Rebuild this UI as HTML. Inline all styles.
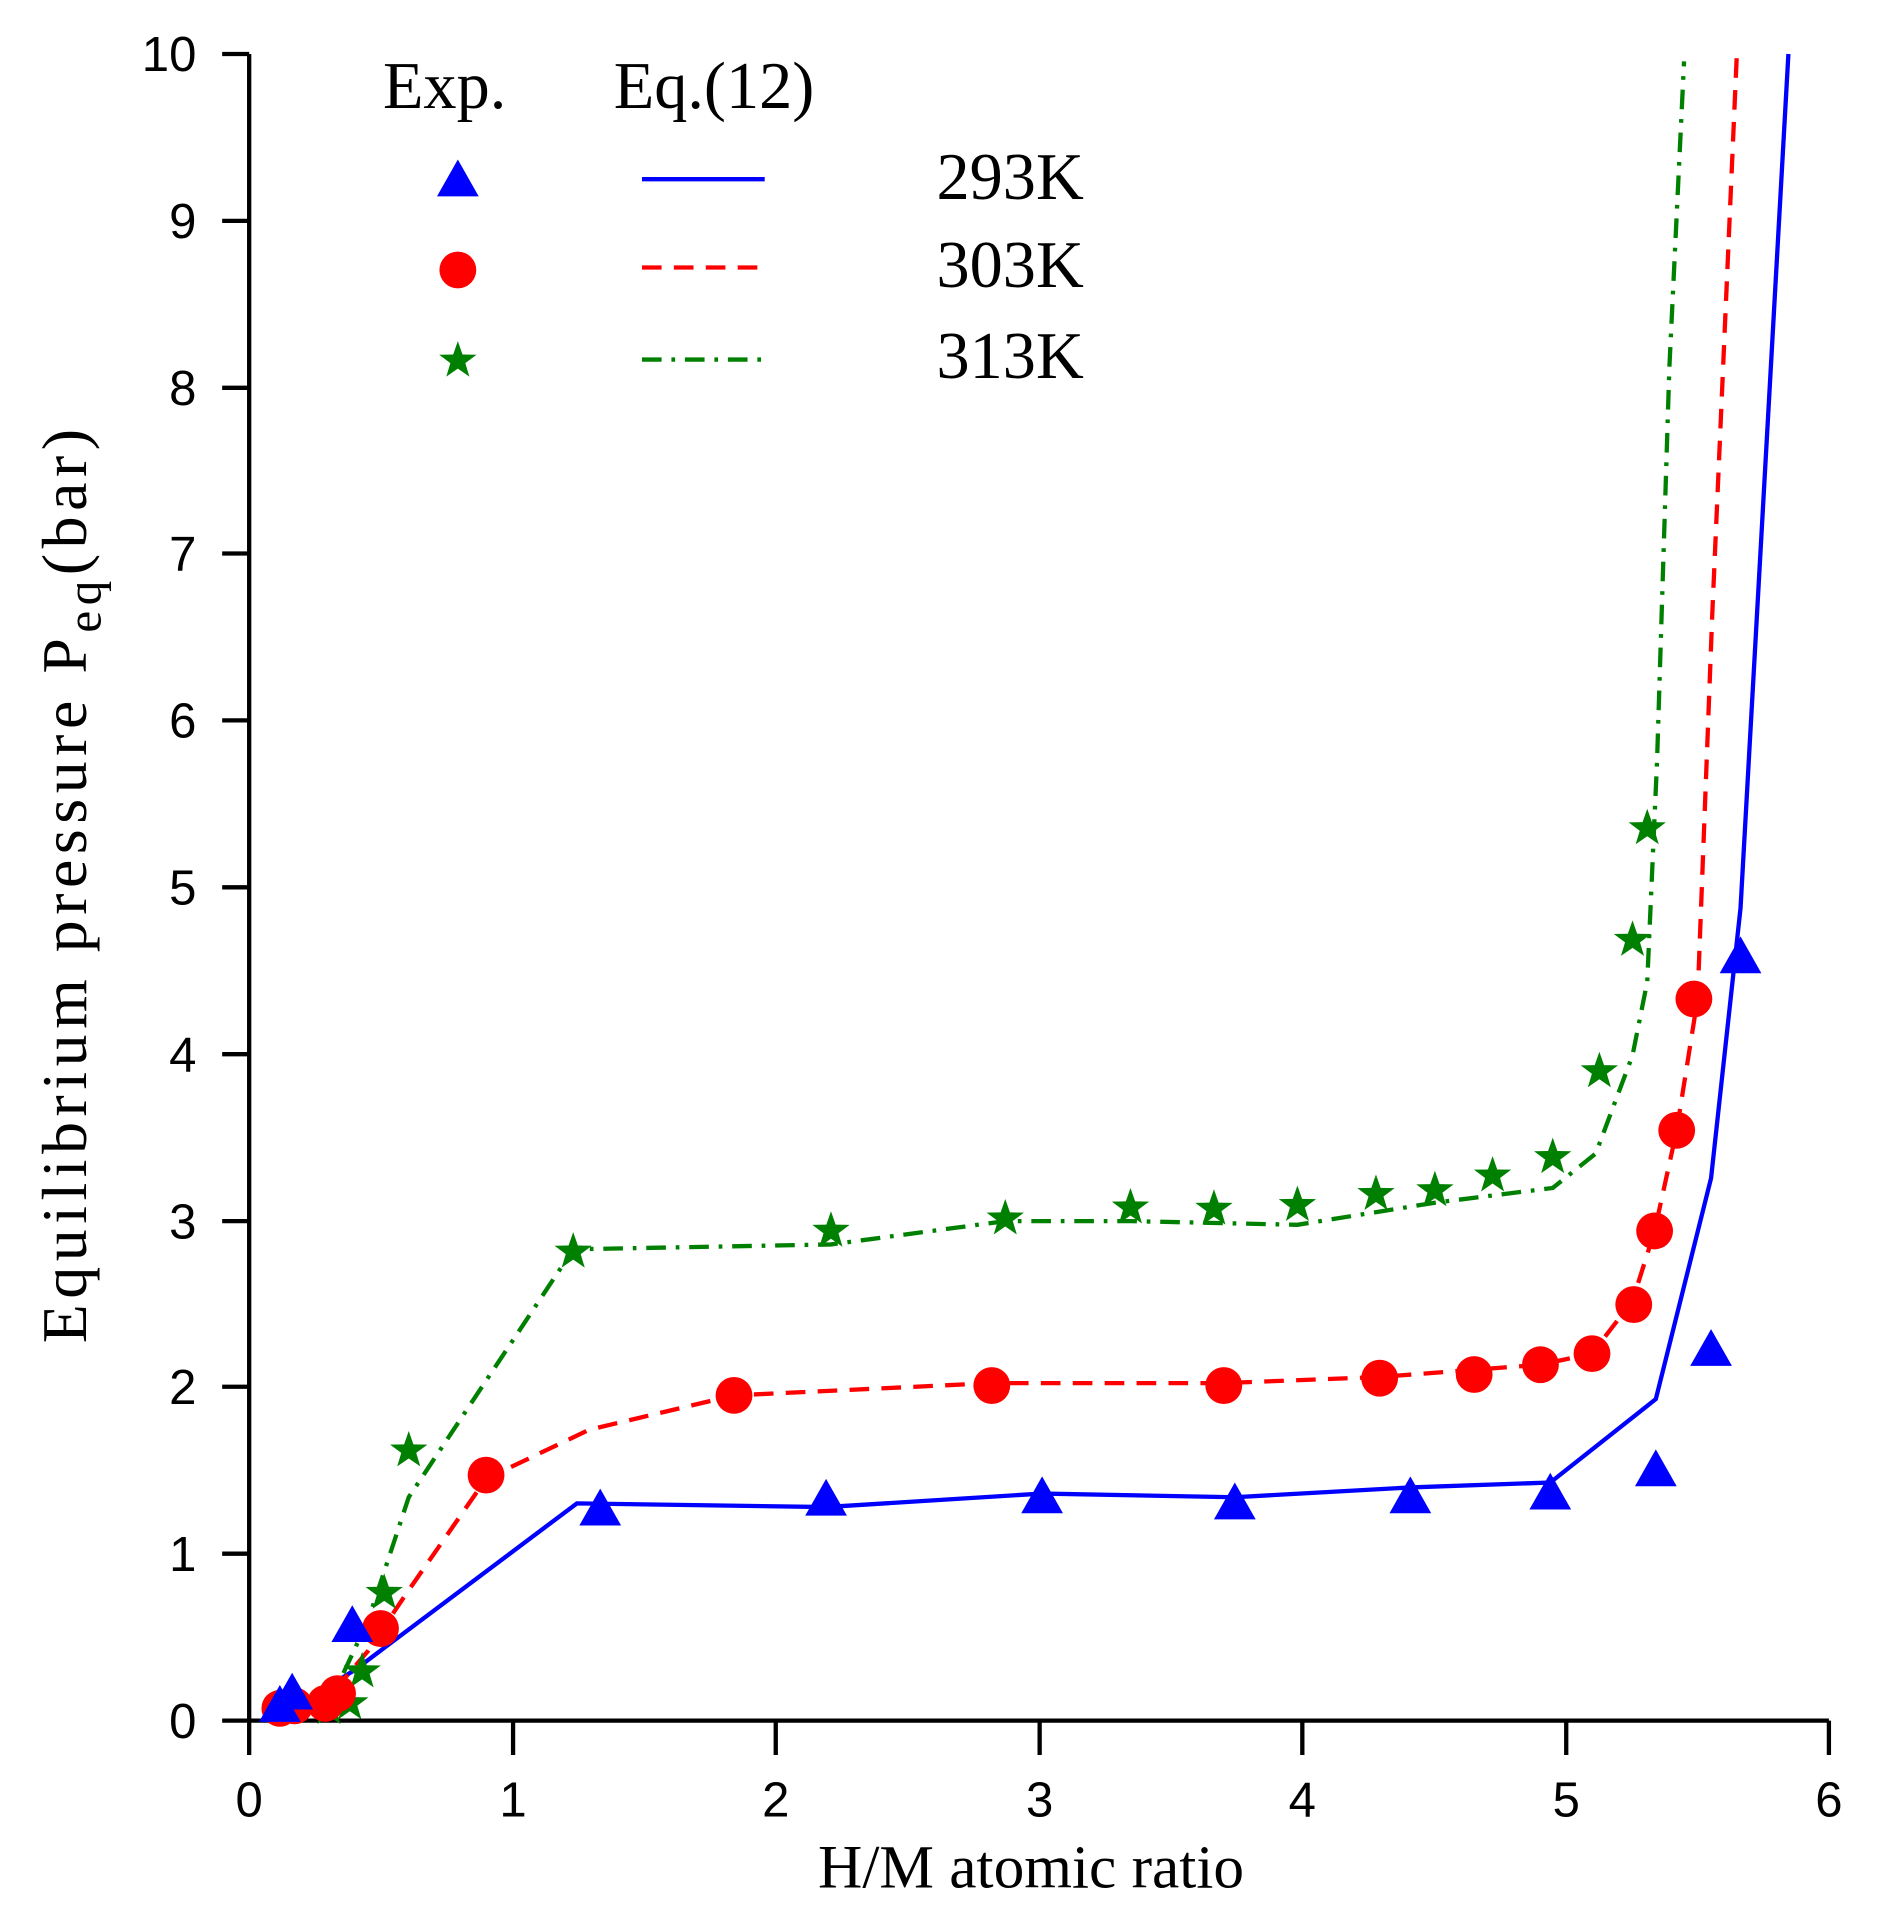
<!DOCTYPE html>
<html><head><style>html,body{margin:0;padding:0;background:#fff}svg{display:block}</style></head><body>
<svg width="1878" height="1928" viewBox="0 0 1530 1571" preserveAspectRatio="none" xmlns="http://www.w3.org/2000/svg">
<defs>
<path id="tri" d="M0,-17 L17,13 L-17,13 Z" fill="#0000ff"/>
<circle id="cir" r="15" fill="#ff0000"/>
<path id="star" d="M0,-16 L3.8,-5.1 L15.2,-4.9 L6.1,1.9 L9.4,12.9 L0,6.4 L-9.4,12.9 L-6.1,1.9 L-15.2,-4.9 L-3.8,-5.1 Z" fill="#008000"/>
</defs>
<g stroke="#000" stroke-width="3.5" fill="none">
<path d="M203,44 V1402 H1490"/>
<path d="M181,44H203M181,180H203M181,316H203M181,451H203M181,587H203M181,723H203M181,859H203M181,995H203M181,1130H203M181,1266H203M181,1402H203"/>
<path d="M203,1402V1430M418,1402V1430M632,1402V1430M847,1402V1430M1061,1402V1430M1276,1402V1430M1490,1402V1430"/>
</g>
<g font-family="Liberation Sans, sans-serif" font-size="40" text-anchor="end" fill="#000">
<text x="160" y="58">10</text><text x="160" y="194">9</text><text x="160" y="330">8</text><text x="160" y="465">7</text><text x="160" y="601">6</text><text x="160" y="737">5</text><text x="160" y="873">4</text><text x="160" y="1009">3</text><text x="160" y="1144">2</text><text x="160" y="1280">1</text><text x="160" y="1416">0</text>
</g>
<g font-family="Liberation Sans, sans-serif" font-size="40" text-anchor="middle" fill="#000">
<text x="203" y="1480">0</text><text x="418" y="1480">1</text><text x="632" y="1480">2</text><text x="847" y="1480">3</text><text x="1061" y="1480">4</text><text x="1276" y="1480">5</text><text x="1490" y="1480">6</text>
</g>
<text x="840" y="1538" font-family="Liberation Serif, serif" font-size="50" text-anchor="middle">H/M  atomic ratio</text>
<text transform="translate(70,722) rotate(-90)" font-family="Liberation Serif, serif" font-size="52" text-anchor="middle" textLength="745">Equilibrium pressure   P<tspan font-size="40" dy="12">eq</tspan><tspan dy="-12">(bar)</tspan></text>
<g font-family="Liberation Serif, serif" font-size="54" fill="#000">
<text x="312" y="88">Exp.</text><text x="500" y="88">Eq.(12)</text>
<text x="763" y="162">293K</text><text x="763" y="234">303K</text><text x="763" y="308">313K</text>
</g>
<use href="#tri" x="373" y="147"/><use href="#cir" x="373" y="220"/><use href="#star" x="373" y="294"/>
<line x1="523" y1="146" x2="623" y2="146" stroke="#0000ff" stroke-width="3.5"/>
<line x1="523" y1="218" x2="623" y2="218" stroke="#ff0000" stroke-width="3.5" stroke-dasharray="16,10"/>
<line x1="523" y1="293" x2="620" y2="293" stroke="#008000" stroke-width="3.5" stroke-dasharray="16,8,3,8"/>
<g fill="none" stroke-width="3.5">
<polyline stroke="#0000ff" points="228,1388 240,1392 290,1360 470,1225 673,1228 849,1217 1006,1220 1149,1212 1263,1208 1349,1140 1394,960 1418,740 1457,44"/>
<polyline stroke="#ff0000" stroke-dasharray="16,10" points="228,1392 260,1392 300,1345 330,1300 396,1205 480,1165 598,1137 808,1127 997,1127 1124,1122 1255,1112 1297,1103 1330,1060 1348,1003 1366,921 1383,814 1395,500 1415,44"/>
<polyline stroke="#008000" stroke-dasharray="16,8,3,8" points="265,1395 300,1320 333,1220 467,1018 677,1014 819,995 921,995 1057,998 1169,980 1265,968 1300,940 1330,860 1342,800 1350,620 1360,300 1372,50"/>
</g>
<g>
<use href="#star" x="268" y="1392"/><use href="#star" x="285" y="1388"/><use href="#star" x="295" y="1362"/><use href="#star" x="313" y="1298"/><use href="#star" x="333" y="1182"/><use href="#star" x="467" y="1020"/><use href="#star" x="677" y="1003"/><use href="#star" x="819" y="993"/><use href="#star" x="921" y="984"/><use href="#star" x="989" y="985"/><use href="#star" x="1057" y="982"/><use href="#star" x="1121" y="973"/><use href="#star" x="1169" y="970"/><use href="#star" x="1216" y="958"/><use href="#star" x="1265" y="943"/><use href="#star" x="1303" y="873"/><use href="#star" x="1330" y="766"/><use href="#star" x="1342" y="675"/>
<use href="#cir" x="228" y="1392"/><use href="#cir" x="240" y="1390"/><use href="#cir" x="265" y="1388"/><use href="#cir" x="275" y="1380"/><use href="#cir" x="310" y="1327"/><use href="#cir" x="396" y="1202"/><use href="#cir" x="598" y="1137"/><use href="#cir" x="808" y="1129"/><use href="#cir" x="997" y="1129"/><use href="#cir" x="1124" y="1123"/><use href="#cir" x="1201" y="1120"/><use href="#cir" x="1255" y="1112"/><use href="#cir" x="1297" y="1103"/><use href="#cir" x="1331" y="1063"/><use href="#cir" x="1348" y="1003"/><use href="#cir" x="1366" y="921"/><use href="#cir" x="1380" y="814"/>
<use href="#tri" x="228" y="1390"/><use href="#tri" x="238" y="1380"/><use href="#tri" x="287" y="1325"/><use href="#tri" x="489" y="1230"/><use href="#tri" x="673" y="1222"/><use href="#tri" x="849" y="1220"/><use href="#tri" x="1006" y="1225"/><use href="#tri" x="1149" y="1220"/><use href="#tri" x="1263" y="1217"/><use href="#tri" x="1349" y="1198"/><use href="#tri" x="1394" y="1100"/><use href="#tri" x="1418" y="780"/>
</g>
</svg>
</body></html>
